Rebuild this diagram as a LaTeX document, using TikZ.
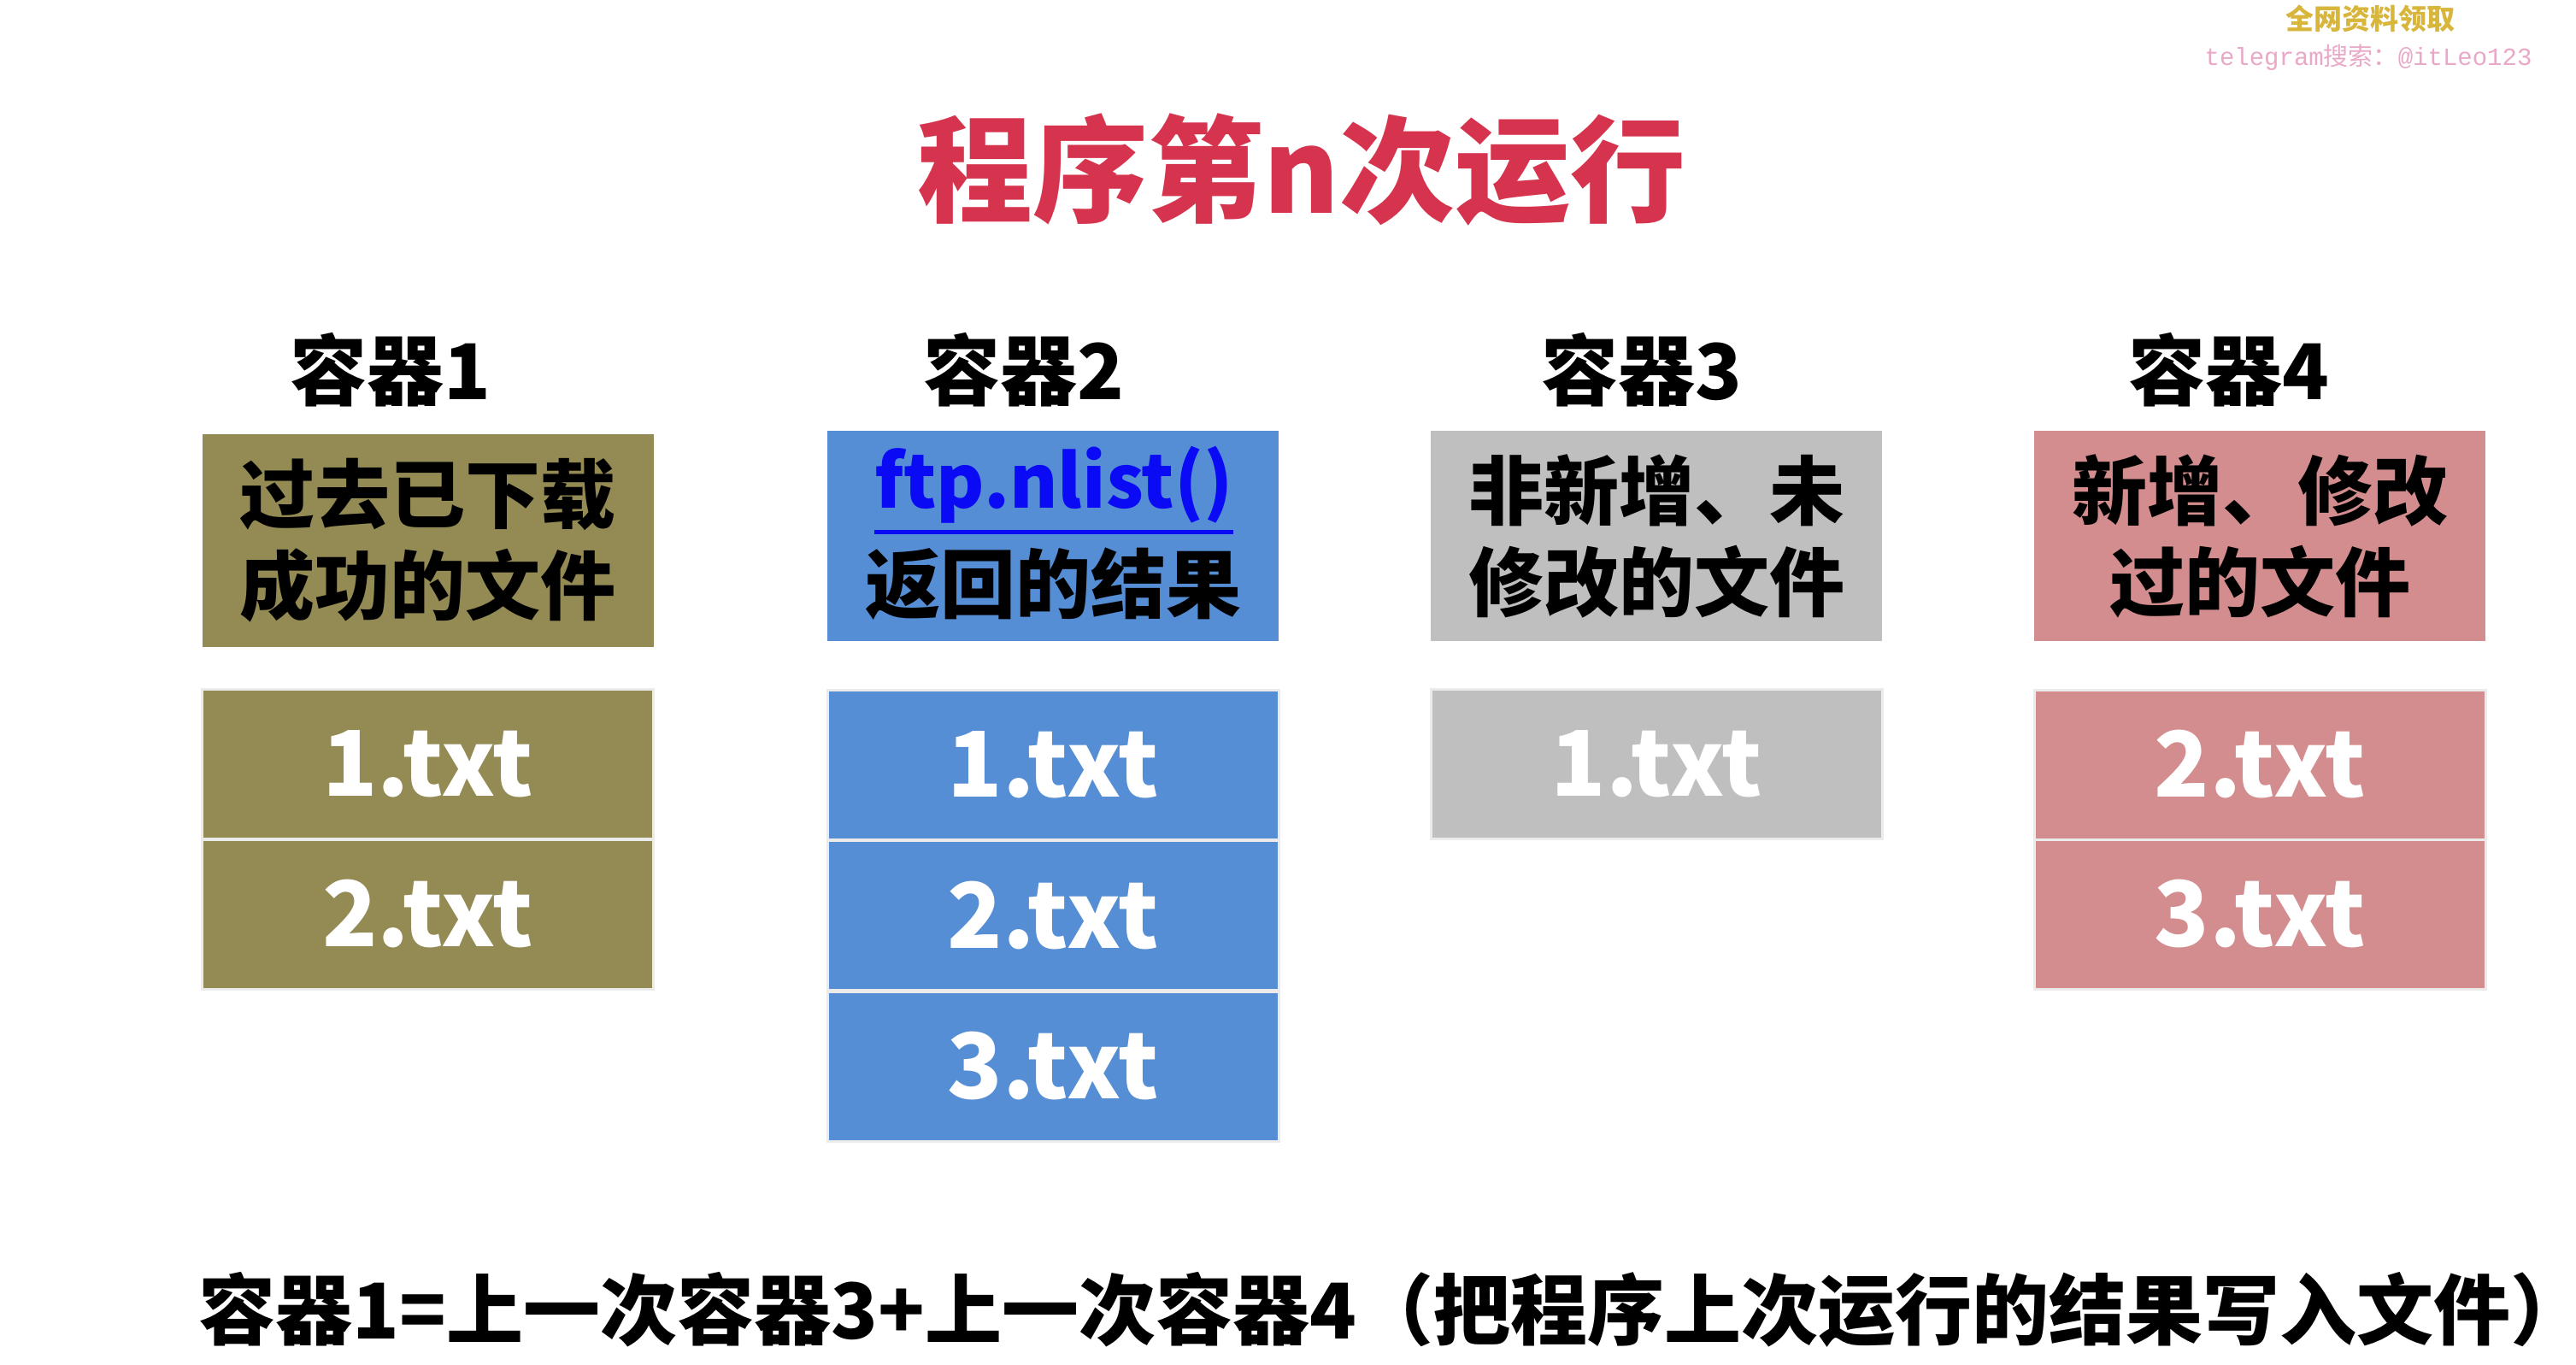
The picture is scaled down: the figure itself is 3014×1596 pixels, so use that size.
\documentclass[tikz,border=0pt]{standalone}
\usepackage{fontspec}
\newfontfamily\cjk{Noto Sans CJK SC}
\newfontfamily\monof{Liberation Mono}
\usetikzlibrary{calc}
\definecolor{cOlive}{HTML}{948A54}
\definecolor{cBlue}{HTML}{558ED5}
\definecolor{cGrey}{HTML}{BFBFBF}
\definecolor{cPink}{HTML}{D48D8E}
\definecolor{cTitle}{HTML}{D6344E}
\definecolor{cGold}{HTML}{D8B63C}
\definecolor{cRose}{HTML}{EAA8C8}
\definecolor{cLink}{HTML}{0A0AF5}
\begin{document}
\begin{tikzpicture}[x=1pt,y=-1pt,
  lbl/.style={font=\cjk\bfseries\fontsize{90}{90}\selectfont, inner sep=0},
  hdr/.style={font=\cjk\bfseries\fontsize{88}{107}\selectfont, align=center, inner sep=0,
              minimum width=528pt, minimum height=246pt, text=black},
  filebox/.style={font=\cjk\bfseries\fontsize{106}{106}\selectfont, text=white, inner sep=0,
              minimum width=528pt, minimum height=175pt, draw=white!92!black, line width=3pt}
]
\useasboundingbox[fill=white] (0,0) rectangle (3014,1596);

% watermark
\node[font=\cjk\bfseries\fontsize{33}{33}\selectfont, text=cGold, inner sep=0] (wm1) at (2773,22) {全网资料领取};
\node[text=cRose, inner sep=0] (wm2) at (2771,67) {\fontsize{29}{29}\selectfont\monof telegram{\cjk 搜索：}@itLeo123};

% title
\node[font=\cjk\bfseries\fontsize{135}{135}\selectfont, text=cTitle, inner sep=0] (title) at (1523,199) {程序第n次运行};

% labels
\node[lbl] (l1) at (457,433) {容器1};
\node[lbl] (l2) at (1198,433) {容器2};
\node[lbl] (l3) at (1921,433) {容器3};
\node[lbl] (l4) at (2608,433) {容器4};

% headers
\node[hdr, fill=cOlive, minimum height=249pt] (h1) at (500.5,632.5) {过去已下载\\成功的文件};
\node[hdr, fill=cBlue] (h2) at (1232,627) {};
\node[font=\cjk\bfseries\fontsize{86}{86}\selectfont, text=cLink, inner sep=0, anchor=base] (ftp) at (1233,594) {ftp.nlist()};
\draw[cLink, line width=5pt] ($(ftp.base west)+(0,28)$) -- ($(ftp.base east)+(0,28)$);
\node[font=\cjk\bfseries\fontsize{88}{88}\selectfont, inner sep=0] (ret) at (1232,683) {返回的结果};
\node[hdr, fill=cGrey] (h3) at (1938,627) {非新增、未\\修改的文件};
\node[hdr, fill=cPink] (h4) at (2644,627) {新增、修改\\过的文件};

% file rows
\node[filebox, fill=cOlive] (a1) at (500.5,894) {1.txt};
\node[filebox, fill=cOlive] (a2) at (500.5,1069.5) {2.txt};
\node[filebox, fill=cBlue] (b1) at (1232,894.5) {1.txt};
\node[filebox, fill=cBlue] (b2) at (1232,1071) {2.txt};
\node[filebox, fill=cBlue] (b3) at (1232,1247.5) {3.txt};
\node[filebox, fill=cGrey] (c1) at (1938,894) {1.txt};
\node[filebox, fill=cPink] (d1) at (2644,894.5) {2.txt};
\node[filebox, fill=cPink] (d2) at (2644,1069.5) {3.txt};

% bottom formula
\node[font=\cjk\bfseries\fontsize{90}{90}\selectfont, inner sep=0, anchor=base] (formula) at (1630,1566) {容器1=上一次容器3+上一次容器4（把程序上次运行的结果写入文件）};
\end{tikzpicture}
\end{document}
